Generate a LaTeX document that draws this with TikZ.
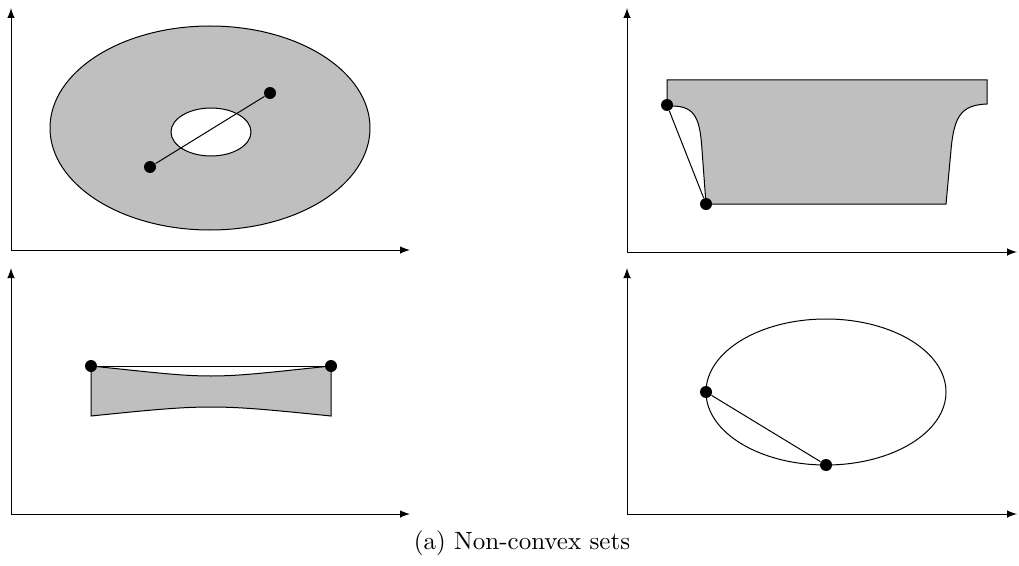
\documentclass[tikz,border=0pt]{standalone}
\usetikzlibrary{arrows,calc,positioning}

\begin{document}
\begin{tikzpicture}[x=0.4pt,y=-0.4pt,
axis/.style={-latex},
region/.style={draw=black,fill=lightgray},
dot/.style={circle,fill=black,inner sep=0pt,minimum size=4.8pt},]
\useasboundingbox (0,0) rectangle (1019,566);
% top left: annulus
\coordinate (o1) at (11,250);
\draw[axis] (o1) -- (11,8);
\draw[axis] (o1) -- (410,250);
\draw[region,even odd rule] (210,128) ellipse [x radius=160,y radius=102]
    (211,132) ellipse [x radius=40,y radius=24];
\node[dot] (p1) at (150,167) {};
\node[dot] (q1) at (270,93) {};
\draw (p1) -- (q1);
% top right
\coordinate (o2) at (627,252);
\draw[axis] (o2) -- (627,8);
\draw[axis] (o2) -- (1017,252);
\draw[region] (667,80) -- (987,80) -- (987,104)
    .. controls (962,105) and (954,115) .. (951,150) -- (946,204)
    -- (706,204) -- (702,150)
    .. controls (700,120) and (696,106) .. (672,106) -- (667,105) -- cycle;
\node[dot] (p2) at (667,105) {};
\node[dot] (q2) at (706,204) {};
\draw (p2) -- (q2);
% bottom left
\coordinate (o3) at (11,514);
\draw[axis] (o3) -- (11,268);
\draw[axis] (o3) -- (410,514);
\draw[region] (91,366) .. controls (150,372) and (180,376) .. (211,376)
    .. controls (242,376) and (272,372) .. (331,366) -- (331,416)
    .. controls (272,410) and (242,407) .. (211,407)
    .. controls (180,407) and (150,410) .. (91,416) -- cycle;
\node[dot] (p3) at (91,366) {};
\node[dot] (q3) at (331,366) {};
\draw (p3) -- (q3);
% bottom right: ellipse
\coordinate (o4) at (627,514);
\draw[axis] (o4) -- (627,268);
\draw[axis] (o4) -- (1017,514);
\draw (826,392) ellipse [x radius=120,y radius=73];
\node[dot] (p4) at (706,392) {};
\node[dot] (q4) at (826,465) {};
\draw (p4) -- (q4);
\node (caption) at (522,543) {(a) Non-convex sets};
\end{tikzpicture}
\end{document}
